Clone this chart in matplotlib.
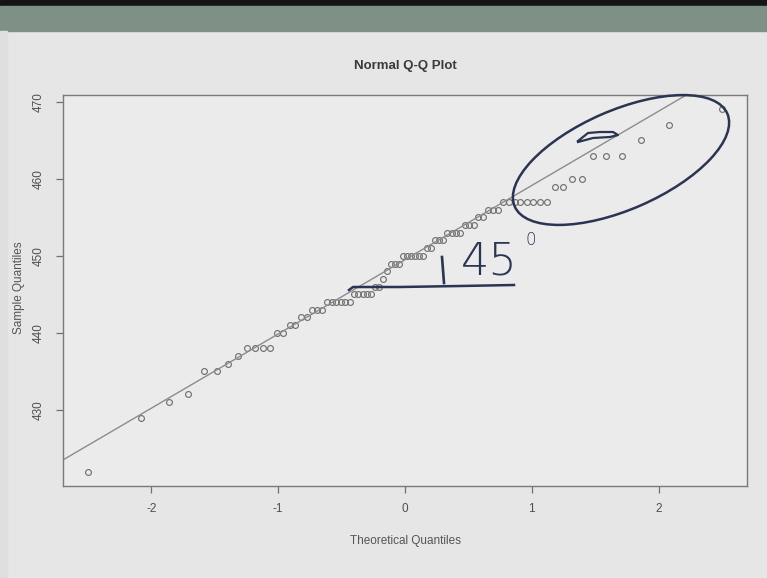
import numpy as np
import matplotlib.pyplot as plt
from matplotlib.patches import Ellipse, Rectangle
from statistics import NormalDist

plt.rcParams['font.family'] = ['Liberation Sans', 'DejaVu Sans']
plt.rcParams['axes.unicode_minus'] = False

# sorted sample values, as value / how many times (n = 80)
sample_vals = [422, 429, 431, 432, 435, 436, 437, 438, 440, 441, 442, 443,
               444, 445, 446, 447, 448, 449, 450, 451, 452, 453, 454, 455,
               456, 457, 459, 460, 463, 465, 467, 469]
sample_counts = [1, 1, 1, 1, 2, 1, 1, 4, 2, 2, 2, 3,
                 6, 5, 2, 1, 1, 3, 6, 2, 3, 4, 3, 2,
                 3, 8, 2, 2, 3, 1, 1, 1]
x_ticks = [-2, -1, 0, 1, 2]
y_ticks = [430, 440, 450, 460, 470]

y = np.repeat(sample_vals, sample_counts)
n = len(y)
nd = NormalDist()
theo = np.array([nd.inv_cdf((i + 0.5) / n) for i in range(n)])

# qqline through the quartiles, like R
q1, q3 = np.quantile(y, [0.25, 0.75])
z1, z3 = nd.inv_cdf(0.25), nd.inv_cdf(0.75)
slope = (q3 - q1) / (z3 - z1)
icept = q1 - slope * z1

W, H = 767, 578
fig = plt.figure(figsize=(W / 100, H / 100), dpi=100, facecolor='#e6e6e6')
ax = fig.add_axes([63 / W, 1 - 486 / H, (747 - 63) / W, (486 - 95) / H])
ax.set_facecolor('#ebebeb')

gray = '#707070'
ax.plot(theo, y, 'o', mfc='none', mec='#727272', ms=4.2, mew=0.85)
ax.axline((0, icept), slope=slope, color='#8c8c8c', lw=1)

# R style 4% padding
xr = theo.max() - theo.min()
yr = y.max() - y.min()
ax.set_xlim(theo.min() - 0.04 * xr, theo.max() + 0.04 * xr)
ax.set_ylim(y.min() - 0.04 * yr, y.max() + 0.04 * yr)

ax.set_xticks(x_ticks)
ax.set_yticks(y_ticks)
ax.set_yticklabels([str(v) for v in y_ticks], rotation=90, va='center')
ax.tick_params(colors=gray, labelcolor='#4f4f4f', labelsize=8.5, length=5, width=0.9, pad=7)
ax.tick_params(axis='y', pad=8)
for s in ax.spines.values():
    s.set_color('#7a7a7a')
    s.set_linewidth(1)

fig.text(405 / W, 1 - 66 / H, 'Normal Q-Q Plot', ha='center', va='center',
         fontsize=9.5, fontweight='bold', color='#3a3a3a')
fig.text(405 / W, 1 - 541 / H, 'Theoretical Quantiles', ha='center', va='center',
         fontsize=8.5, color='#555555')
fig.text(19 / W, 1 - 288 / H, 'Sample Quantiles', ha='center', va='center',
         rotation=90, fontsize=8.5, color='#555555')

# overlay in screen pixels for the screenshot frame and the pen marks
ov = fig.add_axes([0, 0, 1, 1])
ov.set_xlim(0, W)
ov.set_ylim(H, 0)
ov.axis('off')
ov.patch.set_alpha(0)
ov.add_patch(Rectangle((0, 0), W, 6, color='#151515'))
ov.add_patch(Rectangle((0, 6), W, 25, color='#7f9187'))
ov.add_patch(Rectangle((0, 31), 7, H - 31, color='#dedede'))

ink = '#2b3452'
ov.add_patch(Ellipse((621, 160), 232, 99, angle=-23.6, fill=False, ec=ink, lw=1.8))
lobe_x = [578, 588, 600, 613, 618, 610, 593, 578]
lobe_y = [141, 133, 132, 132, 135, 137, 138, 142]
ov.plot(lobe_x, lobe_y, color=ink, lw=1.6)
ov.plot([349, 353, 400, 460, 514], [290, 287, 287, 286, 285], color=ink, lw=1.8)
ov.plot([442, 443, 444], [257, 270, 283], color=ink, lw=1.9)
ov.text(489, 262, '45', ha='center', va='center', fontsize=32, color=ink,
        fontweight='light', family='DejaVu Sans')
ov.text(531, 240, '0', ha='center', va='center', fontsize=12, color=ink,
        fontweight='light', family='DejaVu Sans')

fig.savefig('out.png', dpi=100, facecolor=fig.get_facecolor())
